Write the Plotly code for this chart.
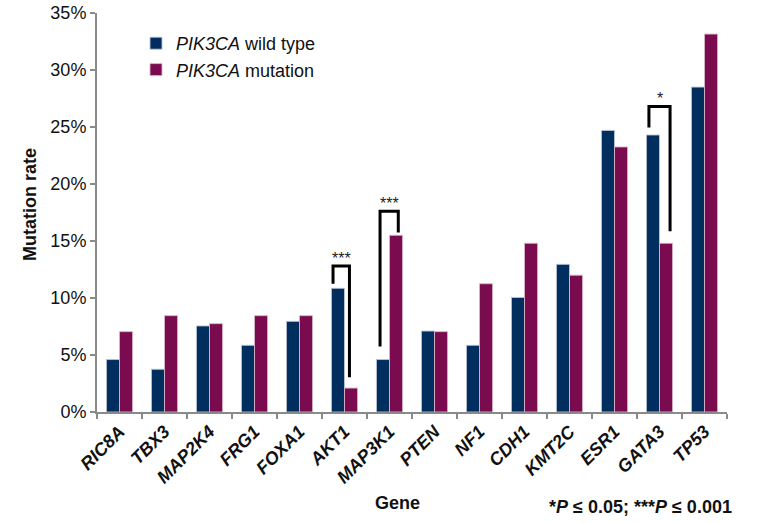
import plotly.graph_objects as go

genes = ["RIC8A", "TBX3", "MAP2K4", "FRG1", "FOXA1", "AKT1", "MAP3K1",
         "PTEN", "NF1", "CDH1", "KMT2C", "ESR1", "GATA3", "TP53"]
wild_type = [4.6, 3.75, 7.55, 5.85, 7.95, 10.85, 4.6,
             7.1, 5.85, 10.05, 12.95, 24.7, 24.3, 28.5]
mutation = [7.05, 8.45, 7.75, 8.45, 8.45, 2.1, 15.5,
            7.05, 11.25, 14.8, 12.0, 23.25, 14.8, 33.15]

# significance brackets: gene, label, top, left-leg bottom, right-leg bottom
sig_genes = ["AKT1", "MAP3K1", "GATA3"]
sig_labels = ["***", "***", "*"]
sig_top = [12.8, 17.6, 26.8]
sig_left_bottom = [11.25, 5.75, 24.95]
sig_right_bottom = [3.05, 15.75, 15.85]
sig_left_off = [-0.255, -0.21, -0.235]
sig_right_off = [0.11, 0.195, 0.235]

BLUE = "#002f5f"
PURPLE = "#7a0b4e"
AXIS = "#8a8a8a"
FONT = "Liberation Sans, Arial, Helvetica, sans-serif"

W, H = 759, 523
L, R, T, B = 97, 32, 13, 111
pw, ph = W - L - R, H - T - B


def px(xp):
    return (xp - L) / pw


def py(yp):
    return (H - B - yp) / ph


fig = go.Figure()
fig.add_trace(go.Bar(x=genes, y=wild_type, name="<i>PIK3CA</i> wild type",
                     marker=dict(color=BLUE, line=dict(color="rgba(190,195,210,0.9)", width=1)),
                     legendgroup="a"))
fig.add_trace(go.Bar(x=genes, y=mutation, name="<i>PIK3CA</i> mutation",
                     marker=dict(color=PURPLE, line=dict(color="rgba(215,180,200,0.9)", width=1)),
                     legendgroup="b"))

for g, lab, top, lb, rb, lo, ro in zip(sig_genes, sig_labels, sig_top, sig_left_bottom,
                                       sig_right_bottom, sig_left_off, sig_right_off):
    i = genes.index(g)
    xl, xr = i + lo, i + ro
    fig.add_shape(type="path", xref="x", yref="y",
                  path=f"M {xl},{lb} L {xl},{top} L {xr},{top} L {xr},{rb}",
                  line=dict(color="black", width=3))
    fig.add_annotation(x=(xl + xr) / 2, y=top, xref="x", yref="y", text=lab,
                       showarrow=False, yanchor="bottom", yshift=-3,
                       font=dict(family=FONT, size=16, color="#222"))

fig.add_annotation(text="Gene", xref="paper", yref="paper", x=px(397), y=py(503),
                   xanchor="center", yanchor="middle", showarrow=False,
                   font=dict(family=FONT, size=18, color="#111", weight="bold"))
fig.add_annotation(text="*<i>P</i> ≤ 0.05; ***<i>P</i> ≤ 0.001", xref="paper", yref="paper",
                   x=px(640), y=py(507), xanchor="center", yanchor="middle", showarrow=False,
                   font=dict(family=FONT, size=18, color="#111", weight="bold"))
fig.add_annotation(text="Mutation rate", xref="paper", yref="paper", x=px(30), y=py(205),
                   xanchor="center", yanchor="middle", showarrow=False, textangle=-90,
                   font=dict(family=FONT, size=18, color="#111", weight="bold"))

fig.update_layout(
    width=W, height=H,
    margin=dict(l=L, r=R, t=T, b=B),
    paper_bgcolor="white", plot_bgcolor="white",
    barmode="group", bargap=0.42, bargroupgap=0,
    font=dict(family=FONT, size=18, color="#111"),
    showlegend=True,
    legend=dict(x=px(136), y=py(25), xanchor="left", yanchor="top",
                bgcolor="rgba(0,0,0,0)", font=dict(family=FONT, size=18, color="#111"),
                traceorder="grouped", tracegroupgap=0, itemwidth=30),
    xaxis=dict(type="category", showline=True, linecolor=AXIS, linewidth=2,
               ticks="outside", tickson="boundaries", ticklen=5, tickcolor=AXIS, tickwidth=2,
               tickangle=-45, showgrid=False, automargin=False,
               tickfont=dict(family=FONT, size=18, color="#111", weight="bold", style="italic")),
    yaxis=dict(range=[0, 35], dtick=5, ticksuffix="%", showline=True, linecolor=AXIS,
               linewidth=2, ticks="outside", ticklen=5, tickcolor=AXIS, tickwidth=2,
               showgrid=False, zeroline=False, automargin=False,
               tickfont=dict(family=FONT, size=18, color="#111")),
)

fig.write_html("out.html", config={"displayModeBar": False},
               post_script="document.body.style.margin='0';")
